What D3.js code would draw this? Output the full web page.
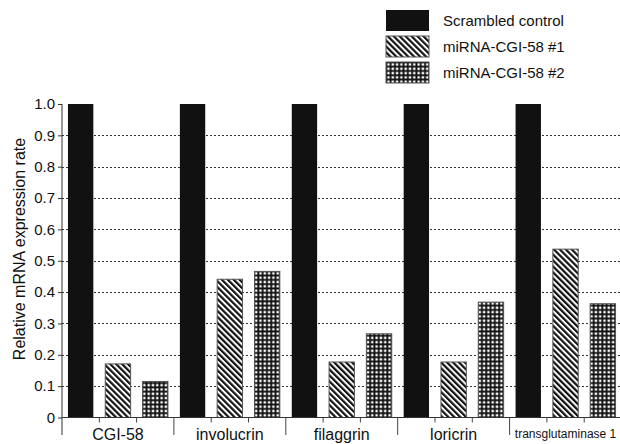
<!DOCTYPE html>
<html>
<head>
<meta charset="utf-8">
<script src="https://cdn.jsdelivr.net/npm/d3@7"></script>
<style>
	body { margin: 0; background: #fff; }
	svg { display: block; font-family: "Liberation Sans", Arial, sans-serif; }
</style>
</head>
<body>
<svg width="620" height="444"></svg>
<script>
	var categories = ['CGI-58', 'involucrin', 'filaggrin', 'loricrin', 'transglutaminase 1']
	var series = ['Scrambled control', 'miRNA-CGI-58 #1', 'miRNA-CGI-58 #2']
	var scrambled = [1.0, 1.0, 1.0, 1.0, 1.0]
	var mirna1 = [0.171, 0.441, 0.177, 0.177, 0.537]
	var mirna2 = [0.115, 0.466, 0.267, 0.368, 0.363]
	var yTicks = [0, 0.1, 0.2, 0.3, 0.4, 0.5, 0.6, 0.7, 0.8, 0.9, 1.0]
	var yTickLabels = ['0', '0.1', '0.2', '0.3', '0.4', '0.5', '0.6', '0.7', '0.8', '0.9', '1.0']
	var yLabel = 'Relative mRNA expression rate'

	var values = [scrambled, mirna1, mirna2]
	var fills = ['#111', 'url(#hatch)', 'url(#dots)']

	var svg = d3.select('svg')
	var plotLeft = 62, plotRight = 621.5, plotTop = 104, plotBottom = 417.5

	// patterns
	var defs = svg.append('defs')
	var hatch = defs.append('pattern').attr('id', 'hatch')
		.attr('patternUnits', 'userSpaceOnUse').attr('width', 4.2).attr('height', 4.2)
		.attr('patternTransform', 'rotate(-45)')
	hatch.append('rect').attr('width', 4.2).attr('height', 4.2).attr('fill', '#fff')
	hatch.append('rect').attr('width', 2.2).attr('height', 4.2).attr('fill', '#111')

	var dots = defs.append('pattern').attr('id', 'dots')
		.attr('patternUnits', 'userSpaceOnUse').attr('width', 4.3).attr('height', 4.3)
	dots.append('rect').attr('width', 4.3).attr('height', 4.3).attr('fill', '#111')
	dots.append('rect').attr('x', 1.3).attr('y', 1.3).attr('width', 2.4).attr('height', 2.4).attr('fill', '#fff')

	var x = d3.scaleBand().domain(categories).range([plotLeft, plotRight]).padding(0)
	var xs = d3.scaleBand().domain(series).range([0, x.bandwidth()])
		.paddingInner(0.32).paddingOuter(0.16)
	var y = d3.scaleLinear().domain([0, 1]).range([plotBottom, plotTop])

	// gridlines
	svg.append('g').selectAll('line')
		.data(yTicks.filter(function(d) { return d > 0 && d < 1 }))
		.enter().append('line')
		.attr('x1', plotLeft).attr('x2', 620)
		.attr('y1', function(d) { return Math.round(y(d)) + 0.5 })
		.attr('y2', function(d) { return Math.round(y(d)) + 0.5 })
		.attr('stroke', '#333').attr('stroke-width', 1)
		.attr('stroke-dasharray', '2,2')

	// bars
	var groups = svg.append('g').selectAll('g')
		.data(series)
		.enter().append('g')

	groups.each(function(s, si) {
		d3.select(this).selectAll('rect')
			.data(categories)
			.enter().append('rect')
			.attr('x', function(c) { return x(c) + xs(s) })
			.attr('width', xs.bandwidth())
			.attr('y', function(c, i) { return y(values[si][i]) })
			.attr('height', function(c, i) { return plotBottom - y(values[si][i]) })
			.attr('fill', fills[si])
			.attr('stroke', si == 0 ? 'none' : '#555')
			.attr('stroke-width', 1)
	})

	// y axis
	var yAxis = d3.axisLeft(y).tickValues(yTicks)
		.tickFormat(function(d, i) { return yTickLabels[i] })
		.tickSize(4).tickPadding(3)
	var yg = svg.append('g').attr('transform', 'translate(' + plotLeft + ',0)').call(yAxis)
	yg.select('.domain').remove()
	yg.selectAll('text').attr('font-size', 15).attr('fill', '#111')
	yg.selectAll('line').attr('stroke', '#333')
	svg.append('line').attr('x1', plotLeft).attr('x2', plotLeft)
		.attr('y1', plotTop).attr('y2', 435).attr('stroke', '#333')

	// x axis line
	svg.append('line').attr('x1', plotLeft).attr('x2', 620)
		.attr('y1', plotBottom).attr('y2', plotBottom).attr('stroke', '#333')

	// category separators
	svg.append('g').selectAll('line')
		.data(categories.slice(1))
		.enter().append('line')
		.attr('x1', function(c) { return x(c) }).attr('x2', function(c) { return x(c) })
		.attr('y1', plotBottom).attr('y2', 435).attr('stroke', '#444')

	// small ticks between bars
	svg.append('g').selectAll('g')
		.data(categories)
		.enter().append('g')
		.each(function(c) {
			d3.select(this).selectAll('line')
				.data(series.slice(1))
				.enter().append('line')
				.attr('x1', function(s) { return x(c) + xs(s) - xs.step() * xs.paddingInner() / 2 })
				.attr('x2', function(s) { return x(c) + xs(s) - xs.step() * xs.paddingInner() / 2 })
				.attr('y1', plotBottom).attr('y2', plotBottom + 5).attr('stroke', '#444')
		})

	// category labels
	svg.append('g').selectAll('text')
		.data(categories)
		.enter().append('text')
		.attr('x', function(c) { return x(c) + x.bandwidth() / 2 })
		.attr('y', function(c, i) { return i == 4 ? 438 : 440 })
		.attr('text-anchor', 'middle')
		.attr('font-size', function(c, i) { return i == 4 ? 12 : 16 })
		.attr('fill', '#111')
		.text(function(c) { return c })

	// y label
	svg.append('text')
		.attr('transform', 'translate(25,249) rotate(-90)')
		.attr('text-anchor', 'middle')
		.attr('font-size', 16)
		.attr('fill', '#111')
		.text(yLabel)

	// legend
	var legend = svg.append('g').selectAll('g')
		.data(series)
		.enter().append('g')
		.attr('transform', function(d, i) { return 'translate(386,' + (10 + i * 26) + ')' })
	legend.append('rect')
		.attr('width', 43).attr('height', 21)
		.attr('fill', function(d, i) { return fills[i] })
		.attr('stroke', function(d, i) { return i == 0 ? 'none' : '#555' })
	legend.append('text')
		.attr('x', 57).attr('y', 16)
		.attr('font-size', 15)
		.attr('fill', '#111')
		.text(function(d) { return d })
</script>
</body>
</html>
